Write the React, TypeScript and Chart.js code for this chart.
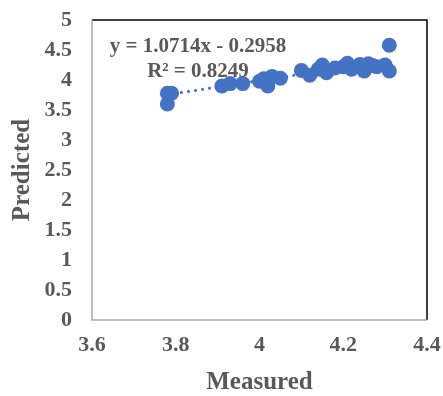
import React, { useEffect, useRef } from "react";
import { Chart, registerables } from "chart.js";

Chart.register(...registerables);

const measured = [3.78, 3.78, 3.79, 3.91, 3.93, 3.96, 4.0, 4.01, 4.02, 4.03, 4.05, 4.1, 4.12, 4.14, 4.15, 4.16, 4.18, 4.2, 4.21, 4.22, 4.24, 4.25, 4.26, 4.27, 4.28, 4.3, 4.31, 4.31];
const predicted = [3.78, 3.6, 3.78, 3.9, 3.94, 3.94, 3.98, 4.02, 3.9, 4.06, 4.03, 4.16, 4.08, 4.18, 4.25, 4.12, 4.2, 4.22, 4.28, 4.18, 4.26, 4.15, 4.27, 4.24, 4.22, 4.25, 4.58, 4.15];
const slope = 1.0714;
const intercept = -0.2958;
const equationText = "y = 1.0714x - 0.2958";
const r2Text = "R² = 0.8249";
const xTicks = [3.6, 3.8, 4.0, 4.2, 4.4];
const yTicks = [0, 0.5, 1, 1.5, 2, 2.5, 3, 3.5, 4, 4.5, 5];

const GRAY = "#595959";
const BLUE = "#4472C4";

export default function App() {
  const ref = useRef<HTMLCanvasElement | null>(null);
  useEffect(() => {
    if (!ref.current) return;
    const xMin = Math.min(...measured);
    const xMax = Math.max(...measured);
    const points = measured.map((x, i) => ({ x, y: predicted[i] }));
    const trend = [
      { x: xMin, y: slope * xMin + intercept },
      { x: xMax, y: slope * xMax + intercept },
    ];
    const framePlugin = {
      id: "frame",
      afterDraw(chart: any) {
        const { ctx, chartArea: a } = chart;
        ctx.save();
        ctx.lineWidth = 1.5;
        ctx.strokeStyle = "#000000";
        ctx.beginPath();
        ctx.moveTo(a.left, a.top);
        ctx.lineTo(a.right, a.top);
        ctx.lineTo(a.right, a.bottom);
        ctx.stroke();
        ctx.strokeStyle = "#a6a6a6";
        ctx.beginPath();
        ctx.moveTo(a.left, a.top);
        ctx.lineTo(a.left, a.bottom);
        ctx.lineTo(a.right, a.bottom);
        ctx.stroke();
        ctx.fillStyle = GRAY;
        ctx.font = "bold 21px 'Liberation Serif', 'Times New Roman', serif";
        ctx.textAlign = "center";
        ctx.textBaseline = "middle";
        ctx.fillText(equationText, a.left + 106, a.top + 27);
        ctx.fillText(r2Text, a.left + 106, a.top + 52);
        ctx.restore();
      },
    };
    const chart = new Chart(ref.current, {
      type: "scatter",
      data: {
        datasets: [
          {
            type: "line",
            data: trend,
            borderColor: BLUE,
            borderWidth: 3,
            borderDash: [0.1, 7],
            borderCapStyle: "round",
            pointRadius: 0,
            fill: false,
          } as any,
          {
            data: points,
            backgroundColor: BLUE,
            borderColor: BLUE,
            pointRadius: 7.5,
            borderWidth: 0,
          },
        ],
      },
      options: {
        animation: false,
        responsive: true,
        maintainAspectRatio: false,
        layout: { padding: { top: 20, right: 16, left: 0, bottom: 0 } },
        plugins: { legend: { display: false }, tooltip: { enabled: false } },
        scales: {
          x: {
            type: "linear",
            min: 3.6,
            max: 4.4,
            afterBuildTicks: (s: any) => {
              s.ticks = xTicks.map((v) => ({ value: v }));
            },
            afterFit: (s: any) => {
              s.height = 76;
              s.paddingLeft = 0;
              s.paddingRight = 0;
            },
            grid: { display: false, drawTicks: false },
            border: { display: false },
            ticks: {
              autoSkip: false,
              maxRotation: 0,
              padding: 12,
              color: GRAY,
              font: { family: "'Liberation Serif', serif", size: 22, weight: "bold" },
              callback: (v: any) => String(Number(v)),
            },
            title: {
              display: true,
              text: "Measured",
              color: GRAY,
              padding: { top: 0, bottom: -2 },
              font: { family: "'Liberation Serif', serif", size: 25, weight: "bold" },
            },
          },
          y: {
            type: "linear",
            min: 0,
            max: 5,
            afterBuildTicks: (s: any) => {
              s.ticks = yTicks.map((v) => ({ value: v }));
            },
            afterFit: (s: any) => {
              s.width = 92;
              s.paddingTop = 0;
              s.paddingBottom = 0;
            },
            grid: { display: false, drawTicks: false },
            border: { display: false },
            ticks: {
              autoSkip: false,
              padding: 20,
              color: GRAY,
              font: { family: "'Liberation Serif', serif", size: 22, weight: "bold" },
              callback: (v: any) => String(Number(v)),
            },
            title: {
              display: true,
              text: "Predicted",
              color: GRAY,
              padding: { top: 8, bottom: 0 },
              font: { family: "'Liberation Serif', serif", size: 25, weight: "bold" },
            },
          },
        },
      },
      plugins: [framePlugin],
    });
    return () => chart.destroy();
  }, []);
  return (
    <div style={{ position: "absolute", left: 0, top: 0, width: 443, height: 396, background: "#fff" }}>
      <canvas ref={ref} />
    </div>
  );
}
